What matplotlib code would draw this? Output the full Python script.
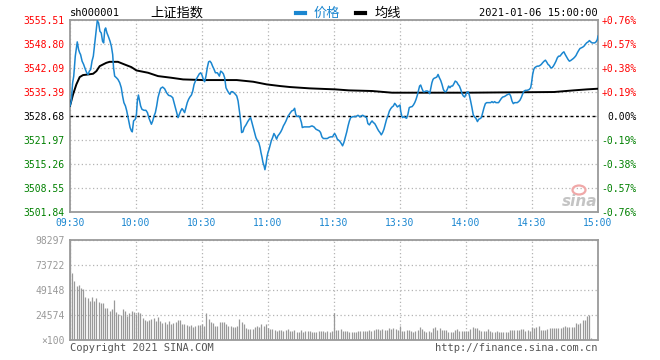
import matplotlib
matplotlib.use('Agg')
import matplotlib.pyplot as plt
from matplotlib.lines import Line2D
from matplotlib.patches import Ellipse

# 上证指数 intraday 2021-01-06, minutes since 09:30 (lunch removed)
price_t = [0, 0.6, 1.2, 1.7, 2.4, 2.9, 3.3, 3.9, 4.4, 4.8, 5.5, 6.2, 7.0, 7.6, 8.2, 8.8, 9.4, 10.0, 10.6,
           11.2, 11.7, 12.1, 12.4, 13.0, 13.6, 14.2, 14.8, 15.3, 15.8, 16.2, 16.8, 17.4, 18.2, 18.8, 19.4,
           19.8, 20.3, 21.1, 21.8, 22.6, 23.3, 23.9, 24.5, 25.2, 25.8, 26.4, 26.8, 27.3, 27.9, 28.3, 28.9,
           29.7, 30.2, 30.6, 31.1, 31.5, 32.1, 32.7, 33.6, 34.5, 35.2, 35.8, 36.4, 37.0, 37.6, 38.2, 38.8,
           39.4, 40.0, 40.6, 41.2, 42.1, 43.0, 43.9, 44.8, 45.8, 46.7, 47.3, 47.9, 48.5, 49.1, 49.7, 50.3,
           50.9, 51.5, 52.1, 52.7, 53.3, 53.9, 54.5, 55.2, 55.8, 56.4, 57.0, 57.6, 58.2, 58.8, 59.4, 60.0,
           60.6, 61.2, 61.8, 62.4, 63.0, 63.6, 64.2, 64.8, 65.5, 66.1, 67.0, 67.9, 68.5, 69.1, 69.7, 70.3,
           70.9, 71.5, 72.1, 72.7, 73.3, 73.9, 74.5, 75.2, 75.8, 76.4, 76.8, 77.3, 77.7, 78.0, 78.6, 79.2,
           80.0, 80.8, 81.5, 82.1, 82.7, 83.3, 83.9, 84.5, 85.2, 85.8, 86.4, 86.8, 87.3, 87.7, 88.2, 88.6,
           89.1, 89.5, 90.0, 90.5, 90.9, 91.5, 92.1, 92.7, 93.3, 93.9, 94.5, 95.1, 95.8, 96.4, 97.0, 97.6,
           98.2, 98.8, 99.4, 100.0, 100.8, 101.5, 102.1, 102.6, 103.2, 103.9, 104.5, 105.2, 105.6, 106.4,
           107.6, 108.8, 110.0, 110.9, 111.8, 112.7, 113.3, 113.9, 114.5, 115.2, 116.1, 117.0, 117.6, 118.5,
           119.4, 119.8, 120.3, 120.9, 121.5, 122.1, 122.7, 123.3, 123.9, 124.5, 125.1, 125.8, 126.4, 127.0,
           127.6, 128.2, 129.1, 130.0, 130.9, 131.8, 132.4, 133.0, 133.6, 134.2, 134.8, 135.4, 136.1, 136.7,
           137.3, 137.9, 138.5, 139.1, 139.7, 140.3, 140.9, 141.5, 142.1, 142.7, 143.3, 143.9, 144.5, 145.2,
           145.8, 146.4, 147.0, 147.6, 148.2, 148.8, 149.4, 150.0, 150.3, 150.8, 151.2, 151.8, 152.4, 153.0,
           153.6, 154.2, 154.8, 155.5, 156.1, 156.7, 157.3, 157.9, 158.5, 158.9, 159.4, 160.0, 160.6, 161.2,
           161.8, 162.4, 163.0, 163.5, 163.9, 164.5, 165.0, 165.4, 166.1, 166.7, 167.3, 167.9, 168.5, 169.1,
           169.7, 170.3, 170.9, 171.5, 172.1, 172.7, 173.3, 173.9, 174.5, 175.1, 175.8, 176.4, 177.0, 177.6,
           178.2, 178.8, 179.4, 180.3, 180.9, 181.5, 182.1, 182.7, 183.3, 183.9, 184.5, 185.2, 185.8, 186.4,
           187.0, 187.6, 188.2, 188.8, 189.4, 190.3, 191.2, 191.8, 192.4, 193.0, 193.6, 194.2, 194.8, 195.5,
           196.1, 196.7, 197.3, 197.9, 198.5, 199.1, 199.7, 200.3, 200.9, 201.5, 202.1, 202.7, 203.3, 203.9,
           204.5, 205.1, 205.8, 206.4, 207.0, 207.6, 208.2, 208.8, 209.4, 209.8, 210.3, 210.8, 211.2, 211.8,
           212.4, 213.0, 213.6, 214.2, 214.8, 215.5, 216.1, 216.7, 217.3, 217.9, 218.5, 219.1, 219.7, 220.3,
           220.9, 221.5, 222.1, 222.7, 223.3, 223.9, 224.5, 225.1, 225.8, 226.4, 227.0, 227.6, 228.2, 228.8,
           229.4, 230.0, 230.6, 231.2, 231.8, 232.4, 233.0, 233.6, 234.2, 234.8, 235.5, 236.1, 236.7, 237.3,
           237.9, 238.5, 239.1, 239.7, 240.0]
price = [3531.48, 3532.87, 3537.97, 3539.83, 3545.40, 3547.72, 3549.39, 3547.25, 3546.33, 3545.86, 3544.00,
         3543.08, 3541.69, 3540.76, 3540.29, 3541.22, 3541.69, 3544.00, 3545.40, 3548.65, 3551.43, 3553.75,
         3555.33, 3554.68, 3552.36, 3551.89, 3549.57, 3549.11, 3552.82, 3553.29, 3551.89, 3550.97, 3549.57,
         3548.18, 3545.86, 3542.15, 3539.83, 3539.37, 3538.90, 3537.97, 3536.58, 3534.27, 3532.41, 3531.48,
         3530.09, 3528.23, 3526.84, 3525.45, 3524.52, 3524.24, 3527.30, 3527.77, 3529.16, 3532.87, 3534.54,
         3533.33, 3531.48, 3530.55, 3530.27, 3530.27, 3529.62, 3528.23, 3527.30, 3526.37, 3527.30, 3528.69,
         3529.62, 3531.48, 3533.80, 3535.19, 3536.40, 3536.77, 3536.30, 3535.19, 3534.45, 3534.27, 3533.80,
         3532.41, 3531.02, 3529.62, 3528.23, 3529.16, 3530.09, 3530.74, 3530.27, 3529.62, 3531.02, 3532.41,
         3533.33, 3533.98, 3534.54, 3535.66, 3537.51, 3538.44, 3539.18, 3539.83, 3540.48, 3540.76, 3540.11,
         3538.90, 3538.25, 3539.83, 3542.15, 3543.82, 3544.00, 3543.54, 3542.61, 3541.69, 3540.76, 3540.76,
         3539.83, 3541.22, 3540.94, 3540.48, 3539.37, 3536.58, 3535.84, 3535.19, 3534.73, 3535.47, 3535.47,
         3535.19, 3534.73, 3534.27, 3532.87, 3531.02, 3528.69, 3526.37, 3524.05, 3524.24, 3525.45, 3526.19,
         3527.12, 3527.77, 3528.23, 3526.84, 3525.45, 3524.05, 3522.66, 3521.74, 3521.27, 3519.88, 3518.49,
         3517.09, 3515.70, 3514.78, 3513.66, 3515.24, 3517.09, 3518.49, 3519.41, 3520.34, 3521.74, 3522.66,
         3523.78, 3523.13, 3522.20, 3523.13, 3523.59, 3524.24, 3524.98, 3525.91, 3526.56, 3527.30, 3528.23,
         3528.88, 3529.44, 3530.09, 3530.27, 3530.83, 3529.16, 3528.51, 3528.69, 3528.23, 3526.84, 3525.45,
         3525.63, 3525.63, 3525.63, 3525.91, 3525.63, 3524.98, 3524.70, 3524.52, 3524.05, 3522.85, 3522.38,
         3522.38, 3522.38, 3522.66, 3522.85, 3522.85, 3523.40, 3523.78, 3523.13, 3522.20, 3521.92, 3521.55,
         3520.99, 3520.34, 3521.27, 3522.66, 3524.24, 3525.91, 3527.30, 3528.23, 3528.42, 3528.51, 3528.51,
         3528.88, 3528.42, 3528.69, 3528.88, 3528.69, 3528.42, 3528.23, 3526.56, 3526.19, 3526.84, 3527.30,
         3526.84, 3526.56, 3525.91, 3525.17, 3524.52, 3524.05, 3523.40, 3524.05, 3524.98, 3526.37, 3527.77,
         3528.69, 3530.09, 3530.74, 3531.20, 3531.48, 3532.22, 3531.76, 3531.20, 3531.48, 3531.76, 3530.09,
         3528.69, 3528.23, 3528.51, 3528.23, 3528.04, 3529.16, 3531.02, 3531.20, 3531.30, 3531.76, 3532.41,
         3533.33, 3534.54, 3536.12, 3537.05, 3537.33, 3536.30, 3535.47, 3535.47, 3535.66, 3535.66, 3535.47,
         3534.91, 3536.12, 3537.97, 3538.90, 3539.18, 3539.37, 3539.55, 3540.29, 3539.37, 3538.62, 3537.51,
         3536.12, 3535.47, 3535.47, 3536.12, 3537.05, 3536.58, 3537.05, 3537.05, 3537.69, 3538.44, 3538.16,
         3537.51, 3537.05, 3536.12, 3534.91, 3534.27, 3533.98, 3535.19, 3535.47, 3534.54, 3532.87, 3531.02,
         3528.97, 3528.42, 3528.04, 3527.12, 3527.77, 3527.95, 3528.23, 3529.62, 3531.02, 3532.13, 3532.41,
         3532.41, 3532.41, 3532.69, 3532.41, 3532.69, 3532.41, 3532.41, 3532.41, 3533.06, 3533.61, 3533.98,
         3534.08, 3534.27, 3534.54, 3534.73, 3534.91, 3534.27, 3532.87, 3532.13, 3532.41, 3532.41, 3532.41,
         3532.69, 3533.06, 3533.80, 3534.91, 3535.66, 3535.84, 3535.84, 3535.94, 3536.12, 3536.58, 3537.97,
         3540.29, 3541.69, 3542.15, 3542.43, 3542.61, 3542.61, 3542.80, 3543.08, 3543.54, 3544.00, 3544.28,
         3543.73, 3543.08, 3542.80, 3542.15, 3542.15, 3542.61, 3543.26, 3544.00, 3544.93, 3545.40, 3545.40,
         3545.86, 3546.33, 3546.61, 3545.86, 3545.12, 3544.47, 3544.00, 3544.19, 3544.47, 3544.75, 3545.12,
         3545.58, 3546.33, 3546.98, 3547.54, 3547.72, 3547.91, 3548.18, 3548.65, 3549.11, 3549.39, 3549.76,
         3549.39, 3549.11, 3549.11, 3549.11, 3549.39, 3550.04, 3551.00]

avg_t = [0, 1.4, 2.9, 4.4, 5.9, 8.2, 10.5, 12.0, 13.5, 15.0, 16.5, 18.0, 21.8, 24.8, 27.9, 30.2, 35.5,
         40.0, 46.0, 51.4, 60.5, 75.8, 83.3, 89.4, 95.5, 100.0, 109.0, 116.7, 120.6, 126.7, 137.3,
         146.4, 180.6, 220.0, 229.0, 235.0, 240.0]
avg_p = [3531.50, 3534.73, 3537.51, 3539.55, 3540.11, 3540.29, 3540.48, 3541.22, 3542.61, 3543.08,
         3543.54, 3543.82, 3543.82, 3543.08, 3542.34, 3541.41, 3540.76, 3539.83, 3539.37, 3538.90,
         3538.72, 3538.72, 3538.25, 3537.51, 3537.05, 3536.77, 3536.40, 3536.21, 3536.12, 3535.84,
         3535.66, 3535.19, 3535.19, 3535.38, 3535.84, 3536.12, 3536.30]

# volume per minute (x100 shares), minute 0..240
volume = [98297, 65900, 58300, 52800, 53700, 51100, 50100, 42300, 41300, 38700,
          42300, 38700, 41300, 37400, 36400, 36400, 31500, 31500, 28800, 30500,
          39300, 27500, 25600, 24600, 30500, 28500, 23900, 26500, 28500, 27900,
          25600, 27500, 26200, 21600, 19700, 19000, 20000, 20600, 21600, 18400,
          22600, 18400, 16700, 17700, 15700, 18700, 16100, 16700, 17700, 19700,
          19700, 15700, 15700, 14800, 13800, 14800, 13100, 13800, 14800, 14800,
          15700, 13800, 26500, 20600, 17700, 16700, 13800, 13800, 17700, 17700,
          17700, 15700, 13800, 13800, 12800, 12800, 13800, 20600, 17700, 15700,
          11800, 10800, 10800, 10800, 12800, 13800, 12800, 15700, 13800, 15700,
          11800, 10800, 10800, 9800, 8800, 9800, 9800, 8800, 9800, 10800,
          8800, 8800, 9800, 7900, 7900, 9800, 7900, 8800, 8800, 8800,
          7900, 7900, 7900, 8800, 8800, 8800, 7900, 8800, 7900, 8500,
          27000, 9800, 9800, 10800, 8800, 8800, 8800, 7900, 7900, 7900,
          7900, 8800, 8800, 8800, 8800, 8800, 9800, 8800, 9800, 10800,
          10800, 9800, 10800, 9800, 9800, 11800, 10800, 11800, 10800, 9800,
          13800, 8800, 8800, 9800, 9800, 8800, 7900, 8800, 9800, 12800,
          10800, 8800, 7900, 8800, 7900, 11800, 12800, 9800, 11800, 9800,
          9800, 9800, 7900, 7900, 7900, 9800, 10800, 8800, 8800, 8800,
          8800, 8800, 10800, 12800, 11800, 11800, 9800, 8800, 8800, 8800,
          10800, 8800, 7900, 7900, 8800, 7900, 7900, 7900, 7900, 7900,
          9800, 9800, 9800, 9800, 9800, 10800, 10800, 8800, 9800, 8800,
          12800, 11800, 12800, 13800, 9800, 9800, 9800, 10800, 11800, 11800,
          11800, 11800, 11800, 11800, 12800, 13800, 12800, 12800, 12800, 12800,
          16700, 15700, 16700, 19700, 19700, 23600, 24600, 2000, 0, 0, 0]

prev_close = 3528.68
left_ticks = [3501.84, 3508.55, 3515.26, 3521.97, 3528.68, 3535.39, 3542.09, 3548.80, 3555.51]
pct_labels = ['-0.76%', '-0.57%', '-0.38%', '-0.19%', '0.00%', '+0.19%', '+0.38%', '+0.57%', '+0.76%']
time_ticks = [0, 30, 60, 90, 120, 150, 180, 210, 240]
time_labels = ['09:30', '10:00', '10:30', '11:00', '11:30', '13:30', '14:00', '14:30', '15:00']
vol_ticks = [0, 24574, 49148, 73722, 98297]
vol_labels = ['\u00d7100', '24574', '49148', '73722', '98297']

BLUE = '#1a86d0'
RED = '#ff0000'
GREEN = '#008000'
GRID = '#b4b4b4'
FRAME = '#9a9a9a'
MONO = 'DejaVu Sans Mono'
CJK = ['Noto Sans CJK SC', 'DejaVu Sans']

W, H = 660, 360
fig = plt.figure(figsize=(6.6, 3.6), dpi=100)
def fx(px): return px / W
def fy(py): return 1 - py / H

def colour(v):
    if v > prev_close + 0.001:
        return RED
    if v < prev_close - 0.001:
        return GREEN
    return 'black'

#price panel
ax = fig.add_axes([fx(70), fy(212), 528 / W, 192 / H])
ax.set_xlim(0, 240)
ax.set_ylim(left_ticks[0], left_ticks[-1])
ax.set_yticks(left_ticks)
ax.set_yticklabels(['%.2f' % v for v in left_ticks], fontfamily=MONO, fontsize=7)
for lab, v in zip(ax.get_yticklabels(), left_ticks):
    lab.set_color(colour(v))
ax.set_xticks(time_ticks)
ax.set_xticklabels(time_labels, fontfamily=MONO, fontsize=7, color=BLUE)
ax.tick_params(length=0, pad=4)
ax.grid(True, color=GRID, linestyle=(0, (1, 2)), lw=0.9)
for s in ax.spines.values():
    s.set_color(FRAME)
    s.set_linewidth(1.3)
ax.axhline(prev_close, color='black', lw=1, linestyle=(0, (2, 2)), zorder=3)
ax.plot(avg_t, avg_p, color='black', lw=1.4, zorder=4)
ax.plot(price_t, price, color=BLUE, lw=1.1, zorder=5)

ax2 = ax.twinx()
ax2.set_ylim(ax.get_ylim())
ax2.set_yticks(left_ticks)
ax2.set_yticklabels(pct_labels, fontfamily=MONO, fontsize=7, ha='right')
for lab, v in zip(ax2.get_yticklabels(), left_ticks):
    lab.set_color(colour(v))
ax2.tick_params(length=0, pad=28)
for s in ax2.spines.values():
    s.set_visible(False)

# sina watermark
fig.add_artist(Ellipse((fx(579), fy(190)), 13 / W, 9 / H, fill=False, ec='#f0a8a8', lw=1.6))
fig.text(fx(597), fy(206), 'sina', color='#c4c4c4', fontsize=11, fontweight='bold',
         style='italic', ha='right', va='baseline')

#volume panel
vax = fig.add_axes([fx(70), fy(340), 528 / W, 100 / H])
vax.set_xlim(0, 240)
vax.set_ylim(0, vol_ticks[-1])
vax.vlines(range(len(volume)), 0, volume, color='#999999', lw=0.9)
vax.set_xticks(time_ticks)
vax.set_xticklabels([])
vax.set_yticks(vol_ticks)
vax.set_yticklabels(vol_labels, fontfamily=MONO, fontsize=7, color='#999999')
vax.tick_params(length=0, pad=4)
vax.grid(True, color=GRID, linestyle=(0, (1, 2)), lw=0.9)
for s in vax.spines.values():
    s.set_color(FRAME)
    s.set_linewidth(1.3)

# header
fig.text(fx(70), fy(13), 'sh000001', fontfamily=MONO, fontsize=7.5, va='center')
fig.text(fx(150), fy(13), '上证指数', fontfamily=CJK, fontsize=9.5, va='center')
fig.add_artist(Line2D([fx(296), fx(305)], [fy(13), fy(13)], color=BLUE, lw=3))
fig.text(fx(314), fy(13), '价格', fontfamily=CJK, fontsize=9.5, color=BLUE, va='center')
fig.add_artist(Line2D([fx(356), fx(365)], [fy(13), fy(13)], color='black', lw=3))
fig.text(fx(375), fy(13), '均线', fontfamily=CJK, fontsize=9.5, va='center')
fig.text(fx(598), fy(13), '2021-01-06 15:00:00', fontfamily=MONO, fontsize=7.5, ha='right', va='center')

# footer
fig.text(fx(70), fy(348), 'Copyright 2021 SINA.COM', fontfamily=MONO, fontsize=7.5, color='#555555', va='center')
fig.text(fx(598), fy(348), 'http://finance.sina.com.cn', fontfamily=MONO, fontsize=7.5, color='#555555',
         ha='right', va='center')

fig.savefig('out.png', dpi=100)
